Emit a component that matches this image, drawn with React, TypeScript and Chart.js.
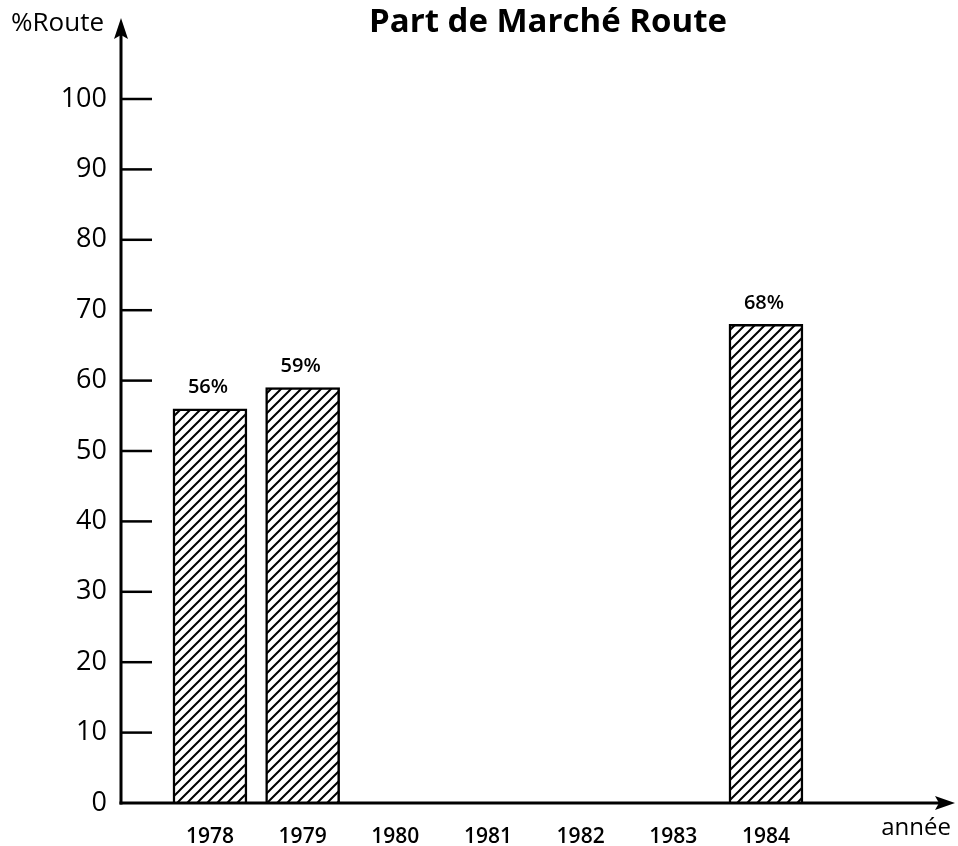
import React, { useEffect, useRef } from "react";
import { Chart, registerables } from "chart.js";

Chart.register(...registerables);

// ---- data ----
const years = [1978, 1979, 1984];
const shares = [56, 59, 68];
const xTickYears = [1978, 1979, 1980, 1981, 1982, 1983, 1984];
const yTickValues = [0, 10, 20, 30, 40, 50, 60, 70, 80, 90, 100];
const chartTitle = "Part de Marché Route";
const yAxisTitle = "%Route";
const xAxisTitle = "année";

const FONT = "'Open Sans', 'Noto Sans', sans-serif";

function makeHatch(): CanvasPattern | string {
  const s = 10;
  const c = document.createElement("canvas");
  c.width = s;
  c.height = s;
  const g = c.getContext("2d");
  if (!g) return "#888";
  g.fillStyle = "#fff";
  g.fillRect(0, 0, s, s);
  g.strokeStyle = "#000";
  g.lineWidth = 2;
  g.beginPath();
  g.moveTo(-1, s + 1);
  g.lineTo(s + 1, -1);
  g.moveTo(-2, 2);
  g.lineTo(2, -2);
  g.moveTo(s - 2, s + 2);
  g.lineTo(s + 2, s - 2);
  g.stroke();
  return g.createPattern(c, "repeat") || "#888";
}

const decor = {
  id: "decor",
  afterDraw(chart: any) {
    const { ctx, chartArea, scales } = chart;
    const x0 = chartArea.left;
    const y0 = chartArea.bottom;
    ctx.save();
    ctx.strokeStyle = "#000";
    ctx.fillStyle = "#000";
    ctx.lineWidth = 3;
    ctx.lineCap = "butt";
    // y axis with arrow
    ctx.beginPath();
    ctx.moveTo(x0, y0 + 1.5);
    ctx.lineTo(x0, 32);
    ctx.stroke();
    ctx.beginPath();
    ctx.moveTo(x0, 18);
    ctx.lineTo(x0 - 7, 39);
    ctx.lineTo(x0, 35);
    ctx.lineTo(x0 + 7, 39);
    ctx.closePath();
    ctx.fill();
    // x axis with arrow
    const xr = chartArea.right;
    ctx.beginPath();
    ctx.moveTo(x0 - 1.5, y0);
    ctx.lineTo(xr - 12, y0);
    ctx.stroke();
    ctx.beginPath();
    ctx.moveTo(xr, y0);
    ctx.lineTo(xr - 20, y0 - 7);
    ctx.lineTo(xr - 16, y0);
    ctx.lineTo(xr - 20, y0 + 7);
    ctx.closePath();
    ctx.fill();
    // y tick marks (inside)
    ctx.lineWidth = 2.5;
    yTickValues.forEach((v) => {
      if (v === 0) return;
      const py = scales.y.getPixelForValue(v);
      ctx.beginPath();
      ctx.moveTo(x0, py);
      ctx.lineTo(x0 + 31, py);
      ctx.stroke();
    });
    // value labels
    const meta = chart.getDatasetMeta(0);
    ctx.font = `600 20px ${FONT}`;
    ctx.textAlign = "center";
    ctx.textBaseline = "middle";
    meta.data.forEach((bar: any, i: number) => {
      ctx.fillText(`${shares[i]}%`, bar.x - 2, bar.y - 21);
    });
    // title
    ctx.font = `bold 33px ${FONT}`;
    ctx.textAlign = "center";
    ctx.fillText(chartTitle, 548, 23);
    // axis titles
    ctx.font = `26px ${FONT}`;
    ctx.textAlign = "left";
    ctx.fillText(yAxisTitle, 11, 24);
    ctx.font = `500 24px ${FONT}`;
    ctx.textAlign = "right";
    ctx.fillText(xAxisTitle, 951, 828);
    ctx.restore();
  },
};

export default function App() {
  const ref = useRef<HTMLCanvasElement | null>(null);
  useEffect(() => {
    document.body.style.margin = "0";
    const canvas = ref.current;
    if (!canvas) return;
    const hatch = makeHatch();
    const chart = new Chart(canvas, {
      type: "bar",
      data: {
        datasets: [
          {
            data: years.map((y, i) => ({ x: y, y: shares[i] })),
            backgroundColor: hatch as any,
            borderColor: "#000",
            borderWidth: 2.5,
            barThickness: 74,
          },
        ],
      },
      options: {
        responsive: false,
        maintainAspectRatio: false,
        animation: false,
        layout: { padding: { top: 99, right: 3, left: 0, bottom: 0 } },
        plugins: {
          legend: { display: false },
          tooltip: { enabled: false },
          title: { display: false },
        },
        scales: {
          x: {
            type: "linear",
            offset: false,
            min: 1977.04,
            max: 1986.04,
            grid: { display: false, drawTicks: false, offset: false },
            border: { display: false },
            afterBuildTicks: (scale: any) => {
              scale.ticks = xTickYears.map((v) => ({ value: v }));
            },
            afterFit: (scale: any) => {
              scale.height = 43;
            },
            ticks: {
              autoSkip: false,
              maxRotation: 0,
              padding: 21,
              color: "#000",
              font: { family: FONT, size: 21, weight: "600" },
              callback: (v: any) => String(v),
            },
          },
          y: {
            min: 0,
            max: 100,
            grid: { display: false, drawTicks: false },
            border: { display: false },
            afterBuildTicks: (scale: any) => {
              scale.ticks = yTickValues.map((v) => ({ value: v }));
            },
            afterFit: (scale: any) => {
              scale.width = 121;
            },
            ticks: {
              padding: 14,
              color: "#000",
              font: { family: FONT, size: 27, weight: "500" },
            },
          },
        },
      },
      plugins: [decor],
    });
    return () => chart.destroy();
  }, []);
  return <canvas ref={ref} width={958} height={846} style={{ display: "block" }} />;
}
